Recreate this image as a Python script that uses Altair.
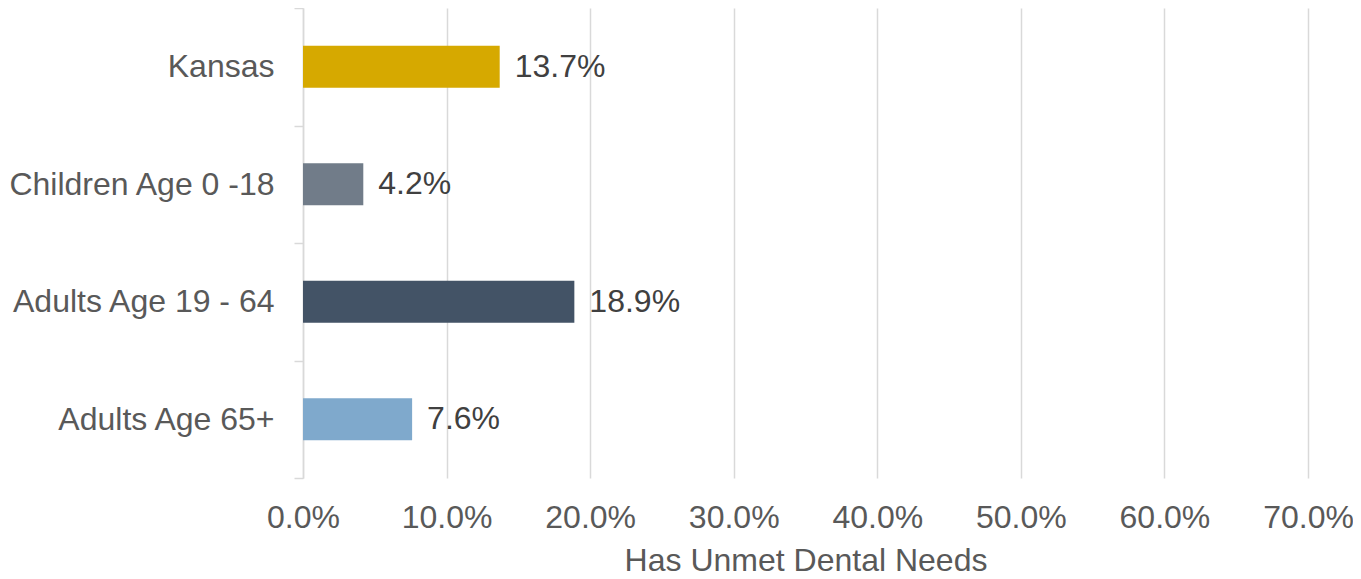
import altair as alt
import pandas as pd

categories = ["Kansas", "Children Age 0 -18", "Adults Age 19 - 64", "Adults Age 65+"]
values = [13.7, 4.2, 18.9, 7.6]
colors = ["#D6A900", "#717C89", "#435366", "#7FA9CC"]
labels = ["13.7%", "4.2%", "18.9%", "7.6%"]

df = pd.DataFrame({"cat": categories, "val": values, "color": colors, "label": labels})

FONT = "Liberation Sans"

y_enc = alt.Y("cat:N", sort=categories, title=None,
              scale=alt.Scale(paddingInner=0, paddingOuter=0),
              axis=alt.Axis(labelFont=FONT, labelFontSize=32, labelColor="#595959",
                            labelPadding=20, labelLimit=0, tickBand="extent", tickSize=9,
                            tickColor="#d9d9d9", domainColor="#d9d9d9", domainWidth=1.5,
                            tickWidth=1.5, grid=False))

x_enc = alt.X("val:Q", title="Has Unmet Dental Needs",
              scale=alt.Scale(domain=[0, 70], nice=False),
              axis=alt.Axis(values=[0, 10, 20, 30, 40, 50, 60, 70],
                            labelExpr="format(datum.value, '.1f') + '%'",
                            labelFont=FONT, labelFontSize=32, labelColor="#595959",
                            labelPadding=24, labelFlush=False, labelOverlap=False,
                            ticks=False, domain=False,
                            grid=True, gridColor="#d9d9d9", gridWidth=1.5,
                            titleFont=FONT, titleFontSize=32, titleColor="#595959",
                            titleFontWeight="normal", titlePadding=12))

bars = alt.Chart(df).mark_bar(size=42).encode(
    x=x_enc, y=y_enc, color=alt.Color("color:N", scale=None))

text = alt.Chart(df).mark_text(align="left", baseline="middle", dx=15,
                               font=FONT, fontSize=32, color="#404040").encode(
    x="val:Q", y=alt.Y("cat:N", sort=categories), text="label:N")

chart = (bars + text).properties(
    width=1005, height=470,
    autosize=alt.AutoSizeParams(type="none"),
    padding={"left": 295, "top": 0, "right": 45, "bottom": 100},
).configure_view(stroke=None)

chart.save("out.html", embed_options={"renderer": "svg", "actions": False})
